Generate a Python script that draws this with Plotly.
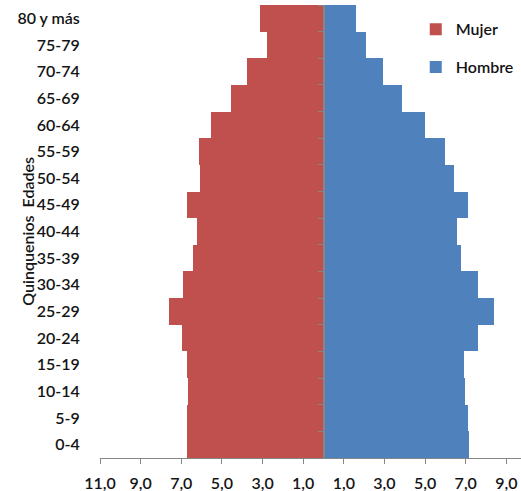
import plotly.graph_objects as go

# Age groups (bottom to top) and population share (%) by sex
edades = ["0-4", "5-9", "10-14", "15-19", "20-24", "25-29", "30-34", "35-39",
          "40-44", "45-49", "50-54", "55-59", "60-64", "65-69", "70-74",
          "75-79", "80 y más"]
mujer = [6.73, 6.70, 6.68, 6.73, 6.98, 7.60, 6.93, 6.44,
         6.24, 6.73, 6.08, 6.13, 5.54, 4.55, 3.78, 2.80, 3.12]
hombre = [7.18, 7.10, 6.96, 6.93, 7.62, 8.41, 7.59, 6.75,
          6.58, 7.10, 6.42, 5.99, 5.00, 3.88, 2.94, 2.09, 1.60]

x_tick_values = [-11, -9, -7, -5, -3, -1, 1, 3, 5, 7, 9]
x_min, x_max = -11, 9.72

ROJO = "#C0504D"
AZUL = "#4F81BD"
GRIS = "#868686"
TEXTO = "#141414"
FUENTE = "Lato"
PESO = 600

fig = go.Figure()
fig.add_trace(go.Bar(
    y=edades, x=[-v for v in mujer], orientation="h", name="Mujer",
    marker=dict(color=ROJO, line_width=0), legendgroup="mujer",
    customdata=mujer, hovertemplate="%{y}: %{customdata:.1f}<extra>Mujer</extra>",
))
fig.add_trace(go.Bar(
    y=edades, x=hombre, orientation="h", name="Hombre", yaxis="y2",
    marker=dict(color=AZUL, line_width=0), legendgroup="hombre",
    hovertemplate="%{y}: %{x:.1f}<extra>Hombre</extra>",
))

tick_text = [f"{abs(v):.1f}".replace(".", ",") for v in x_tick_values]
texto = dict(family=FUENTE, size=16, color=TEXTO, weight=PESO)

fig.update_layout(
    width=521, height=491,
    margin=dict(l=100, r=0, t=5, b=33),
    paper_bgcolor="white", plot_bgcolor="white",
    bargap=0, barmode="overlay",
    font=texto,
    xaxis=dict(
        range=[x_min, x_max], tickvals=x_tick_values, ticktext=tick_text,
        showgrid=False, zeroline=False, showline=True, linecolor=GRIS,
        linewidth=1, ticks="outside", ticklen=5, tickcolor=GRIS,
        ticklabelstandoff=6, tickfont=texto, automargin=False,
    ),
    yaxis=dict(
        type="category", categoryorder="array", categoryarray=edades,
        range=[-0.5, len(edades) - 0.5],
        showgrid=False, zeroline=False, showline=False,
        ticks="outside", ticklen=16, tickcolor="rgba(0,0,0,0)",
        tickfont=texto, automargin=False,
    ),
    yaxis2=dict(
        matches="y", overlaying="y", anchor="free",
        position=(0 - x_min) / (x_max - x_min),
        type="category", showgrid=False, zeroline=False,
        showline=True, linecolor=GRIS, linewidth=2,
        ticks="outside", tickson="boundaries", ticklen=5, tickcolor=GRIS,
        showticklabels=False, automargin=False,
    ),
    legend=dict(
        x=0.75, y=0.984, xanchor="left", yanchor="top",
        traceorder="grouped", tracegroupgap=14,
        font=texto, bgcolor="rgba(0,0,0,0)",
    ),
    annotations=[dict(
        text="Quinquenios  Edades", textangle=-90,
        xref="paper", yref="paper", x=-0.173, y=0.5,
        xanchor="center", yanchor="middle", showarrow=False,
        font=texto,
    )],
)

fig.write_html("out.html")
